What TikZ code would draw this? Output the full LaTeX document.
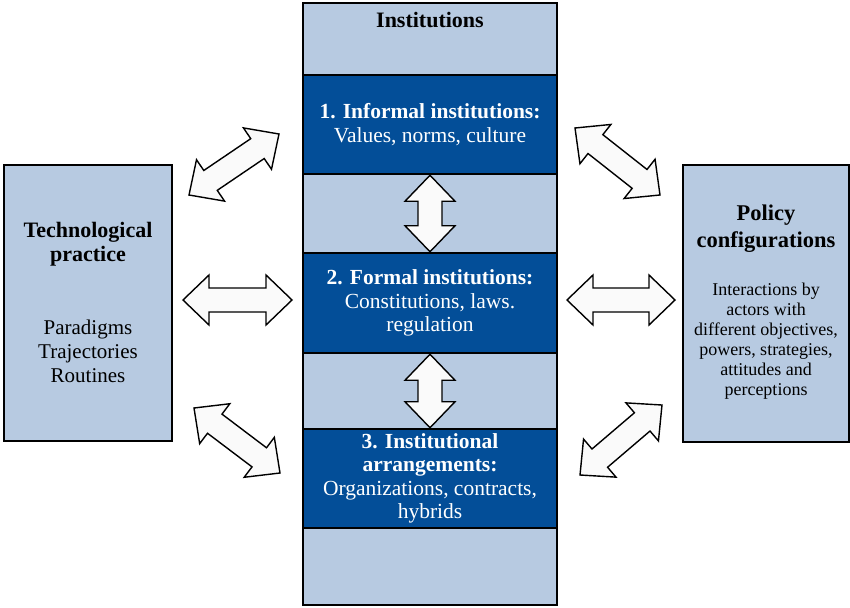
\documentclass[tikz,border=0pt]{standalone}
\usepackage{fontspec}
\setmainfont{Liberation Serif}
\usetikzlibrary{calc}

\definecolor{bandlight}{RGB}{183,202,225}
\definecolor{banddark}{RGB}{3,78,152}
\definecolor{arrowfill}{RGB}{250,250,250}

% hollow double arrow from one point to another
\newcommand{\dblarrow}[2]{%
  \draw[blockarrow] let \p1=($(#2)-(#1)$), \n1={atan2(\y1,\x1)}, \n2={veclen(\x1,\y1)} in
    [shift={(#1)}, rotate=\n1] (0pt,0pt) -- (26pt,25pt) -- (26pt,12pt) -- ({\n2-26pt},12pt)
    -- ({\n2-26pt},25pt) -- (\n2,0pt) -- ({\n2-26pt},-25pt) -- ({\n2-26pt},-12pt)
    -- (26pt,-12pt) -- (26pt,-25pt) -- cycle;}

\begin{document}
\begin{tikzpicture}[x=1pt, y=-1pt]
      \tikzstyle{panel}=[draw=black, line width=2.5pt, fill=bandlight, inner sep=0pt]
      \tikzstyle{band}=[draw=black, line width=2.5pt, fill=banddark, minimum width=254pt, inner sep=0pt,
                        text=white, align=center, font=\fontsize{21.5}{23.5}\selectfont]
      \tikzstyle{blockarrow}=[draw=black, line width=1.4pt, fill=arrowfill, line join=miter]
      \tikzstyle{title}=[font=\fontsize{22}{24}\selectfont\bfseries, align=center]
      \tikzstyle{body}=[font=\fontsize{21}{24}\selectfont, align=center]

      \useasboundingbox (0,0) rectangle (850,607);

      % institutions column
      \node[panel, minimum width=254pt, minimum height=602pt] (inst) at (430,304) {};
      \node[title] (insttitle) at (430,20) {Institutions};
      \node[band, minimum height=99pt] (informal) at (430,124.5)
        {\textbf{1. Informal institutions:}\\Values, norms, culture};
      \node[band, minimum height=100pt] (formal) at (430,303)
        {\textbf{2. Formal institutions:}\\Constitutions, laws.\\regulation};
      \node[band, minimum height=99pt] (arrange) at (430,478.5)
        {\textbf{3. Institutional}\\\textbf{arrangements:}\\Organizations, contracts,\\hybrids};

      % side boxes
      \node[panel, minimum width=168pt, minimum height=276pt] (tech) at (88,303) {};
      \node[title] (techtitle) at (88,244) {Technological\\practice};
      \node[body] (techbody) at (88,351) {Paradigms\\Trajectories\\Routines};

      \node[panel, minimum width=166pt, minimum height=277pt] (policy) at (766,303.5) {};
      \node[title, font=\fontsize{22.5}{27}\selectfont\bfseries] (policytitle) at (766,229) {Policy\\configurations};
      \node[body, font=\fontsize{18}{20}\selectfont] (policybody) at (766,341)
        {Interactions by\\actors with\\different objectives,\\powers, strategies,\\attitudes and\\perceptions};

      % arrow ends
      \coordinate (techup) at (189,195);   \coordinate (instup) at (279,134);
      \coordinate (techmid) at (183,300);  \coordinate (instmid) at (292,300);
      \coordinate (techlow) at (194,408);  \coordinate (instlow) at (280,473);
      \coordinate (polup) at (660,195);    \coordinate (instupr) at (575,128);
      \coordinate (polmid) at (675,300);   \coordinate (instmidr) at (567,300);
      \coordinate (pollow) at (662,405);   \coordinate (instlowr) at (580,475);

      \dblarrow{techup}{instup}
      \dblarrow{techmid}{instmid}
      \dblarrow{techlow}{instlow}
      \dblarrow{instupr}{polup}
      \dblarrow{instmidr}{polmid}
      \dblarrow{instlowr}{pollow}

      % links inside the column
      \dblarrow{informal.south}{formal.north}
      \dblarrow{formal.south}{arrange.north}
\end{tikzpicture}
\end{document}
